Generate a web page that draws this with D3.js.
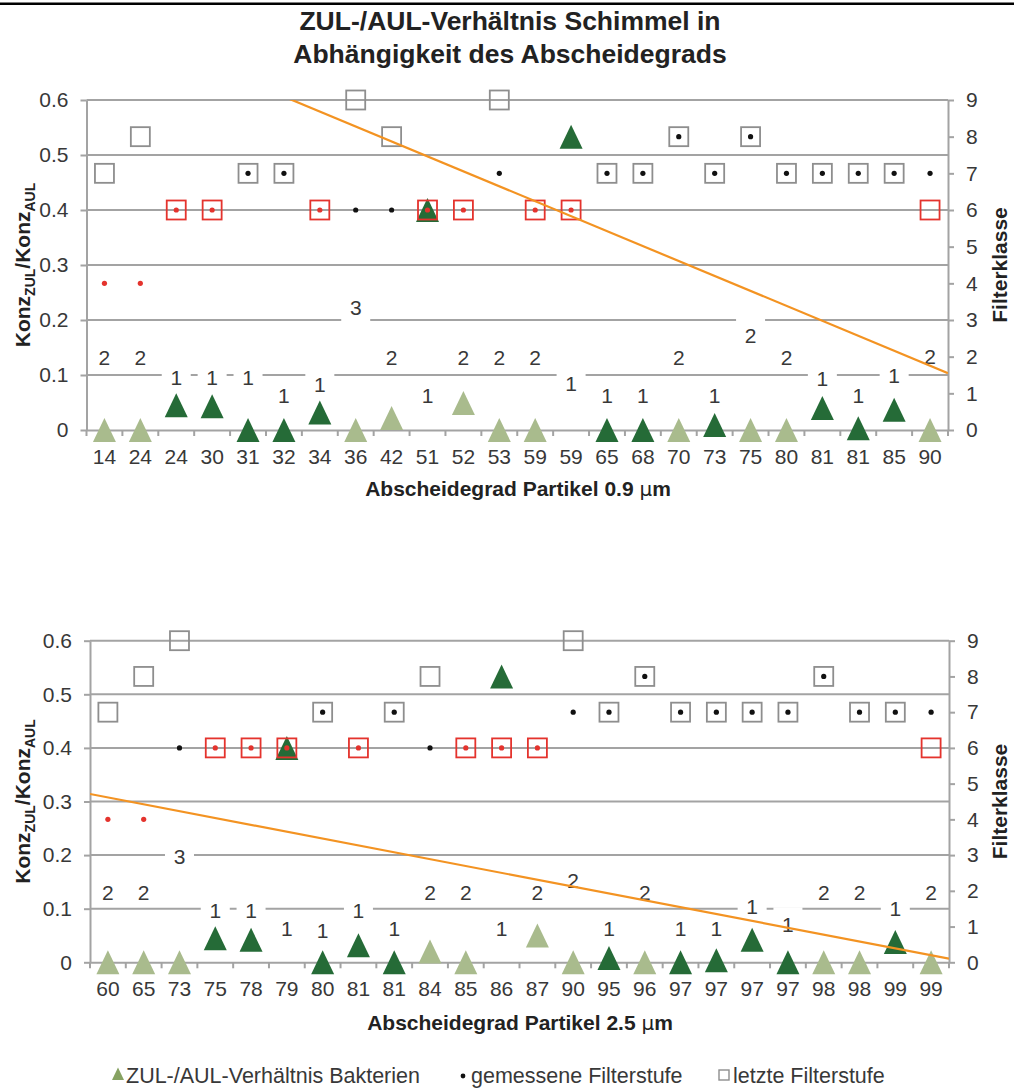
<!DOCTYPE html>
<html><head><meta charset="utf-8">
<script src="https://cdn.jsdelivr.net/npm/d3@7"></script>
<style>
body{margin:0;background:#fff;}
svg{display:block;font-family:"Liberation Sans",Arial,sans-serif;}
</style></head><body>
<svg id="c" width="1014" height="1088"></svg>
<script>
// ---------- data ----------
const titleLines = ["ZUL-/AUL-Verhältnis Schimmel in", "Abhängigkeit des Abscheidegrads"];
const ratioTicks = [0, 0.1, 0.2, 0.3, 0.4, 0.5, 0.6];
const classTicks = [0, 1, 2, 3, 4, 5, 6, 7, 8, 9];
const legendItems = ["ZUL-/AUL-Verhältnis Bakterien", "gemessene Filterstufe", "letzte Filterstufe"];

// Panel 1: Abscheidegrad Partikel 0.9 µm
const catsTop = ["14","24","24","30","31","32","34","36","42","51","52","53","59","59","65","68","70","73","75","80","81","81","85","90"];
const ratioTop = [0,0,0.045,0.043,0,0,0.032,0,0.022,0.4,0.049,0,0,0.533,0,0,0,0.009,0,0,0.04,0.003,0.037,0];
const countTop = [2,2,1,1,1,1,1,3,2,1,2,2,2,1,1,1,2,1,2,2,1,1,1,2];
const countPosTop = [0.132,0.132,0.095,0.095,0.095,0.063,0.083,0.222,0.132,0.063,0.132,0.132,0.132,0.085,0.063,0.063,0.132,0.063,0.172,0.132,0.094,0.063,0.1,0.133];
const measuredTop = [4,4,6,6,7,7,6,6,6,6,6,7,6,6,7,7,8,7,8,7,7,7,7,7];
const measuredHiTop = [1,1,1,1,0,0,1,0,0,1,1,0,1,1,0,0,0,0,0,0,0,0,0,0];
const lastTop = [7,8,6,6,7,7,6,9,8,6,6,9,6,6,7,7,8,7,8,7,7,7,7,6];
const lastHiTop = [0,0,1,1,0,0,1,0,0,1,1,0,1,1,0,0,0,0,0,0,0,0,0,1];
const trendTop = [0.742, 0.117];   // trend value at first / last category

// Panel 2: Abscheidegrad Partikel 2.5 µm
const catsBot = ["60","65","73","75","78","79","80","81","81","84","85","86","87","90","95","96","97","97","97","97","98","98","99","99"];
const ratioBot = [0,0,0,0.045,0.042,0.4,0,0.032,0,0.02,0,0.533,0.05,0,0.008,0,0,0.004,0.042,0,0,0,0.038,0];
const countBot = [2,2,3,1,1,1,1,1,1,2,2,1,2,2,1,2,1,1,1,1,2,2,1,2];
const countPosBot = [0.13,0.13,0.198,0.096,0.096,0.063,0.06,0.096,0.063,0.13,0.13,0.063,0.13,0.153,0.063,0.13,0.063,0.063,0.105,0.07,0.13,0.13,0.1,0.13];
const measuredBot = [4,4,6,6,6,6,7,6,7,6,6,6,6,7,7,8,7,7,7,7,8,7,7,7];
const measuredHiBot = [1,1,0,1,1,1,0,1,0,0,1,1,1,0,0,0,0,0,0,0,0,0,0,0];
const lastBot = [7,8,9,6,6,6,7,6,7,8,6,6,6,9,7,8,7,7,7,7,8,7,7,6];
const lastHiBot = [0,0,0,1,1,1,0,1,0,0,1,1,1,0,0,0,0,0,0,0,0,0,0,1];
const trendBot = [0.3076, 0.0132];

// ---------- style ----------
const C = {dark:"#256b37", light:"#a9bb8d", sq:"#8e8e8e", red:"#e4332d", orange:"#f39322",
           grid:"#a3a3a3", text:"#383838", legTri:"#86a262"};
const FS = 21;
const svg = d3.select("#c");

svg.append("line").attr("x1",0).attr("x2",1014).attr("y1",3.8).attr("y2",3.8)
  .attr("stroke","#000").attr("stroke-width",2.6);

svg.append("g").selectAll("text").data(titleLines).join("text")
  .attr("x",510).attr("y",(d,i)=>30+i*33).attr("text-anchor","middle")
  .attr("font-size",26.5).attr("font-weight","bold").attr("fill","#222").text(d=>d);

const triPath = "M0,-12L11.5,12L-11.5,12Z";

function panel(p){
  const {cats, ratio, count, countPos, measured, measuredHi, last, lastHi, trend, xTitle, box} = p;
  const n = cats.length;
  const x = d3.scaleBand().domain(d3.range(n)).range([box.l, box.r]).padding(0);
  const bw = x.bandwidth();
  const cx = i => x(i) + bw/2;
  const yL = d3.scaleLinear().domain([0,0.6]).range([box.b, box.t]);
  const yR = d3.scaleLinear().domain([0,9]).range([box.b, box.t]);
  const g = svg.append("g");

  // gridlines
  g.append("g").selectAll("line").data(ratioTicks.filter(d=>d>0)).join("line")
    .attr("x1",box.l).attr("x2",box.r).attr("y1",d=>yL(d)).attr("y2",d=>yL(d))
    .attr("stroke",C.grid).attr("stroke-width",2);

  // left axis
  const la = g.append("g").attr("transform",`translate(${box.l},0)`)
    .call(d3.axisLeft(yL).tickValues(ratioTicks).tickFormat(d=>d===0?"0":d3.format(".1f")(d))
      .tickSize(6).tickSizeOuter(0).tickPadding(12));
  // right axis
  const ra = g.append("g").attr("transform",`translate(${box.r},0)`)
    .call(d3.axisRight(yR).tickValues(classTicks).tickSize(6).tickSizeOuter(0).tickPadding(12));
  // bottom axis
  const ba = g.append("g").attr("transform",`translate(0,${box.b})`)
    .call(d3.axisBottom(x).tickFormat(i=>cats[i]).tickSize(0).tickSizeOuter(0).tickPadding(19));
  ba.selectAll(".tick text").attr("dy","0.72em");
  // boundary ticks on category axis
  g.append("g").selectAll("line").data(d3.range(n+1)).join("line")
    .attr("x1",i=>box.l+i*bw).attr("x2",i=>box.l+i*bw).attr("y1",box.b).attr("y2",box.b+6)
    .attr("stroke",C.grid).attr("stroke-width",2);

  [la,ra,ba].forEach(a=>{
    a.selectAll(".domain").attr("stroke",C.grid).attr("stroke-width",2);
    a.selectAll(".tick line").attr("stroke",C.grid).attr("stroke-width",2);
    a.selectAll(".tick text").attr("font-size",FS).attr("fill",C.text)
      .attr("font-family",'"Liberation Sans",Arial,sans-serif');
  });

  // triangles (ZUL/AUL ratio bacteria)
  g.append("g").selectAll("path").data(ratio).join("path")
    .attr("d",triPath).attr("transform",(d,i)=>`translate(${cx(i)},${yL(d)})`)
    .attr("fill",(d,i)=>count[i]===1?C.dark:C.light);

  // squares (letzte Filterstufe)
  g.append("g").selectAll("rect").data(last).join("rect")
    .attr("x",(d,i)=>cx(i)-9.5).attr("y",d=>yR(d)-9.5).attr("width",19).attr("height",19)
    .attr("fill","none").attr("stroke",(d,i)=>lastHi[i]?C.red:C.sq).attr("stroke-width",1.8);

  // dots (gemessene Filterstufe)
  g.append("g").selectAll("circle").data(measured).join("circle")
    .attr("cx",(d,i)=>cx(i)).attr("cy",d=>yR(d)).attr("r",2.6)
    .attr("fill",(d,i)=>measuredHi[i]?C.red:"#111");

  // count labels with white boxes
  const lab = g.append("g").selectAll("g").data(count).join("g")
    .attr("transform",(d,i)=>`translate(${cx(i)},${yL(countPos[i])})`);
  lab.append("rect").attr("x",-14.5).attr("y",-17.5).attr("width",29).attr("height",31.5).attr("fill","#fff");
  lab.append("text").attr("text-anchor","middle").attr("y",7.5).attr("font-size",FS)
    .attr("fill",C.text).text(d=>d);

  // trend line (clipped to plot area)
  const cid = "clip"+p.id;
  svg.append("clipPath").attr("id",cid).append("rect")
    .attr("x",box.l).attr("y",box.t).attr("width",box.r-box.l).attr("height",box.b-box.t);
  const slope = (trend[1]-trend[0])/(n-1);
  const tv = t => trend[0] + slope*t;
  const ends = [-0.5, n-0.5];
  g.append("path").attr("clip-path",`url(#${cid})`)
    .attr("d", d3.line().x(t=>box.l+(t+0.5)*bw).y(t=>yL(tv(t)))(ends))
    .attr("fill","none").attr("stroke",C.orange).attr("stroke-width",2.2);

  // axis titles
  const lt = g.append("text").attr("transform",`translate(${p.ltx},${(box.t+box.b)/2}) rotate(-90)`)
    .attr("text-anchor","middle").attr("font-size",FS).attr("font-weight","bold").attr("fill","#222");
  lt.append("tspan").text("Konz");
  lt.append("tspan").attr("font-size",14).attr("dy",5).text("ZUL");
  lt.append("tspan").attr("dy",-5).text("/Konz");
  lt.append("tspan").attr("font-size",14).attr("dy",5).text("AUL");

  g.append("text").attr("transform",`translate(${p.rtx},${(box.t+box.b)/2}) rotate(-90)`)
    .attr("text-anchor","middle").attr("font-size",FS).attr("font-weight","bold").attr("fill","#222")
    .text("Filterklasse");

  const xt = g.append("text").attr("x",p.xtx).attr("y",p.xty).attr("text-anchor","middle")
    .attr("font-size",FS).attr("font-weight","bold").attr("fill","#222");
  xt.append("tspan").text(xTitle[0]);
  xt.append("tspan").attr("font-weight","normal").attr("font-family",'"DejaVu Sans",sans-serif').attr("font-size",20).text(xTitle[1]);
  xt.append("tspan").text(xTitle[2]);
}

panel({id:1, cats:catsTop, ratio:ratioTop, count:countTop, countPos:countPosTop,
  measured:measuredTop, measuredHi:measuredHiTop, last:lastTop, lastHi:lastHiTop, trend:trendTop,
  xTitle:["Abscheidegrad Partikel 0.9 ","μ","m"], box:{l:86.5, r:948, t:100, b:430},
  ltx:30, rtx:1007, xtx:518, xty:495.5});

panel({id:2, cats:catsBot, ratio:ratioBot, count:countBot, countPos:countPosBot,
  measured:measuredBot, measuredHi:measuredHiBot, last:lastBot, lastHi:lastHiBot, trend:trendBot,
  xTitle:["Abscheidegrad Partikel 2.5 ","μ","m"], box:{l:90, r:949, t:640.7, b:962.3},
  ltx:30, rtx:1007, xtx:520, xty:1029.5});

// legend
const lg = svg.append("g").attr("font-size",21.5).attr("fill",C.text);
lg.append("path").attr("d","M0,-6.5L6,6L-6,6Z").attr("transform","translate(118,1074)").attr("fill",C.legTri);
lg.append("text").attr("x",126).attr("y",1083).text(legendItems[0]);
lg.append("circle").attr("cx",463).attr("cy",1076).attr("r",2.4).attr("fill","#111");
lg.append("text").attr("x",471).attr("y",1083).text(legendItems[1]);
lg.append("rect").attr("x",719).attr("y",1070).attr("width",10).attr("height",10).attr("fill","none").attr("stroke",C.sq).attr("stroke-width",1.4);
lg.append("text").attr("x",733).attr("y",1083).text(legendItems[2]);
</script>
</body></html>
